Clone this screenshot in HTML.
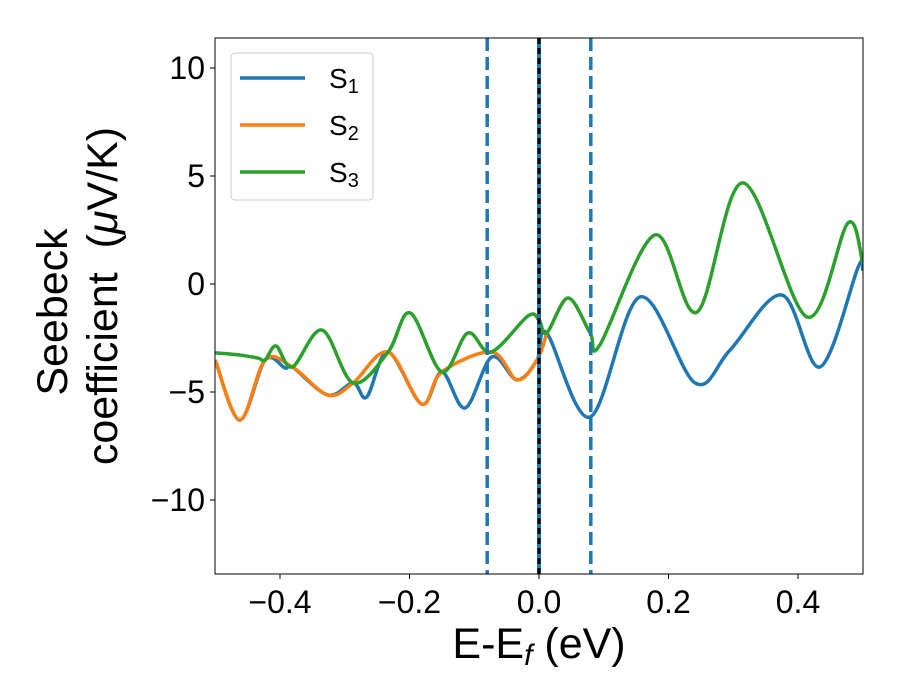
<!DOCTYPE html>
<html><head><meta charset="utf-8"><style>
body{margin:0;background:#fff}
svg{display:block;font-family:"Liberation Sans","DejaVu Sans",sans-serif}
</style></head><body>
<svg id="chart" width="900" height="700">
<rect x="0" y="0" width="900" height="700" fill="#fff"/>
<g id="plot"></g>
<g>
<rect x="231" y="53" width="142" height="147" rx="4" fill="#fff" fill-opacity="0.8" stroke="#ccc"/>
<line x1="240" x2="305" y1="78" y2="78" stroke="#1f77b4" stroke-width="3.5"/>
<text x="329" y="88" font-size="28">S<tspan font-size="20" dy="5">1</tspan></text>
<line x1="240" x2="305" y1="125" y2="125" stroke="#ff7f0e" stroke-width="3.5"/>
<text x="329" y="135" font-size="28">S<tspan font-size="20" dy="5">2</tspan></text>
<line x1="240" x2="305" y1="172" y2="172" stroke="#2ca02c" stroke-width="3.5"/>
<text x="329" y="182" font-size="28">S<tspan font-size="20" dy="5">3</tspan></text>
</g>
<text x="539" y="658" font-size="43" text-anchor="middle">E-E<tspan font-style="italic" font-size="30" dy="7">f</tspan><tspan dy="-7"> (eV)</tspan></text>
<g>
<text transform="translate(67,312) rotate(-90)" font-size="43" text-anchor="middle">Seebeck</text>
<text transform="translate(117,296) rotate(-90)" font-size="43" text-anchor="middle" xml:space="preserve">coefficient  (<tspan font-style="italic">μ</tspan>V/K)</text>
</g>
</svg>
<script>
const s1X=[-0.5,-0.462,-0.423,-0.392,-0.381,-0.326,-0.287,-0.266,-0.233,-0.181,-0.150,-0.114,-0.073,-0.034,-0.003,0.012,0.079,0.156,0.241,0.295,0.375,0.434,0.493,0.5];
const s1Y=[-3.52,-6.30,-3.52,-3.89,-3.84,-5.14,-4.58,-5.23,-3.15,-5.56,-4.07,-5.74,-3.38,-4.44,-3.52,-2.27,-6.16,-0.60,-4.58,-3.06,-0.51,-3.84,0.79,0.65];
const s2X=[-0.5,-0.462,-0.423,-0.381,-0.326,-0.287,-0.233,-0.181,-0.150,-0.073,-0.034,-0.003,0.012];
const s2Y=[-3.52,-6.30,-3.52,-3.84,-5.14,-4.58,-3.15,-5.56,-4.07,-3.15,-4.44,-3.52,-2.27];
const s3X=[-0.5,-0.462,-0.434,-0.423,-0.406,-0.381,-0.335,-0.287,-0.233,-0.199,-0.150,-0.110,-0.074,-0.017,0.0,0.012,0.045,0.079,0.094,0.179,0.244,0.315,0.414,0.477,0.5];
const s3Y=[-3.19,-3.29,-3.43,-3.52,-2.87,-3.84,-2.13,-4.58,-3.15,-1.34,-4.07,-2.27,-3.15,-1.48,-1.67,-2.27,-0.65,-2.27,-2.82,2.27,-1.30,4.68,-1.53,2.82,0.97];
const xTicks=[-0.4,-0.2,0.0,0.2,0.4];
const xTickLabels=["\u22120.4","\u22120.2","0.0","0.2","0.4"];
const yTicks=[10,5,0,-5,-10];
const yTickLabels=["10","5","0","\u22125","\u221210"];
const vLinesX=[-0.08,0.0,0.08];

const L=215,R=863,T=38,B=574;
const xs=v=>539+v*647.5;
const ys=v=>284-v*21.6;
const NS="http://www.w3.org/2000/svg";
const g=document.getElementById('plot');
function mk(tag,attrs,parent){const e=document.createElementNS(NS,tag);for(const k in attrs)e.setAttribute(k,attrs[k]);(parent||g).appendChild(e);return e;}
function smoothPath(X,Y){
  const P=X.map((x,i)=>[xs(x),ys(Y[i])]);
  let d=`M${P[0][0]},${P[0][1]}`;
  for(let i=0;i<P.length-1;i++){
    const p0=P[i-1]||P[i],p1=P[i],p2=P[i+1],p3=P[i+2]||P[i+1];
    const c1=[p1[0]+(p2[0]-p0[0])/6,p1[1]+(p2[1]-p0[1])/6];
    const c2=[p2[0]-(p3[0]-p1[0])/6,p2[1]-(p3[1]-p1[1])/6];
    d+=` C${c1[0]},${c1[1]} ${c2[0]},${c2[1]} ${p2[0]},${p2[1]}`;
  }
  return d;
}
const clip=mk('clipPath',{id:'pc'});mk('rect',{x:L,y:T,width:R-L,height:B-T},clip);
const series=[[s1X,s1Y,'#1f77b4','series-s1'],[s2X,s2Y,'#ff7f0e','series-s2'],[s3X,s3Y,'#2ca02c','series-s3']];
series.forEach(s=>{
  const p=mk('path',{d:smoothPath(s[0],s[1]),fill:'none',stroke:s[2],'stroke-width':3.5,'clip-path':'url(#pc)','stroke-linejoin':'round'});
  
  
});
vLinesX.forEach((v,i)=>{
  const x=xs(v);
  if(v===0){
    const a=mk('line',{x1:x,x2:x,y1:T,y2:B,stroke:'#1f77b4','stroke-width':4});
    
    
    const b=mk('line',{x1:x,x2:x,y1:T,y2:B,stroke:'#000','stroke-width':3,'stroke-dasharray':'6 4'});
    
    
  } else {
    const a=mk('line',{x1:x,x2:x,y1:T,y2:B,stroke:'#1f77b4','stroke-width':3.5,'stroke-dasharray':'13 6'});
    
    
  }
});
const fr=mk('rect',{x:L,y:T,width:R-L,height:B-T,fill:'none',stroke:'#000','stroke-width':1});


xTicks.forEach((v,i)=>{
  const x=xs(v);
  mk('line',{x1:x,x2:x,y1:B,y2:B+5,stroke:'#000'});
  const t=mk('text',{x:x,y:B+39,'font-size':32,'text-anchor':'middle'});t.textContent=xTickLabels[i];
  
  
});
yTicks.forEach((v,i)=>{
  const y=ys(v);
  mk('line',{x1:L-5,x2:L,y1:y,y2:y,stroke:'#000'});
  const t=mk('text',{x:L-10,y:y+11,'font-size':32,'text-anchor':'end'});t.textContent=yTickLabels[i];
  
  
});
</script>
</body></html>
